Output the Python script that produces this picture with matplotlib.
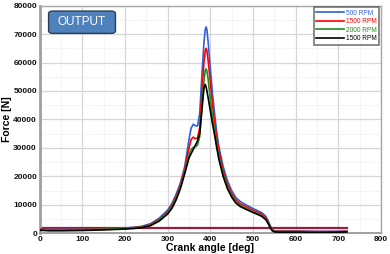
import matplotlib
matplotlib.use("Agg")
import matplotlib.pyplot as plt
from matplotlib.patches import FancyBboxPatch
from matplotlib.ticker import MultipleLocator

angle = [0, 20, 50, 100, 150, 200, 220, 240, 260, 280, 300, 310, 320, 330, 340, 350,
         355, 360, 365, 370, 375, 380, 385, 388, 390, 392, 395, 400, 405, 410, 415, 420, 430,
         440, 450, 460, 470, 480, 490, 500, 510, 520, 530, 535, 540, 545, 550, 560,
         600, 650, 700, 720]

rpm500 = [1500, 1450, 1400, 1500, 1600, 1900, 2100, 2500, 3400, 5300, 8200, 10500, 13800,
          17800, 23500, 33000, 37000, 38300, 37800, 37700, 42000, 55000, 67000, 71500, 72500,
          71500, 67000, 58000, 49000, 42000, 35500, 30500, 23500, 18500, 15000, 12500, 11200,
          10300, 9500, 8700, 8000, 7300, 6000, 4500, 2800, 1500, 900, 800, 800, 700, 700, 800]

rpm1500 = [1400, 1350, 1300, 1400, 1500, 1800, 2000, 2300, 3100, 4900, 7600, 9800, 13000,
           17000, 22500, 30000, 33000, 33800, 33200, 33500, 37000, 49000, 60000, 64200, 65000,
           64200, 60500, 53000, 45500, 39000, 33500, 29000, 22000, 17300, 14000, 11700, 10400,
           9600, 8900, 8100, 7500, 6800, 5500, 4200, 2600, 1300, 800, 700, 700, 600, 600, 700]

rpm2000 = [1300, 1200, 1200, 1300, 1400, 1700, 1900, 2200, 2900, 4600, 7200, 9300, 12300,
           16300, 21500, 27500, 29500, 30200, 30400, 31000, 34000, 44000, 53500, 57200, 57800,
           57000, 54000, 47000, 41000, 36000, 31000, 27000, 20800, 16300, 13200, 11000, 9800,
           9000, 8300, 7600, 7000, 6300, 5000, 3800, 2300, 1100, 700, 600, 600, 500, 500, 600]

rpm1500b = [1100, 900, 900, 1000, 1200, 1500, 1700, 2000, 2700, 4300, 6800, 8800, 11800,
            15800, 21000, 26500, 28000, 29500, 31000, 32500, 35000, 43000, 51000, 52300, 51500,
            50000, 47500, 43000, 38500, 34500, 30000, 26000, 20000, 15700, 12700, 10600, 9400,
            8700, 8000, 7300, 6700, 6000, 4800, 3600, 2100, 900, 500, 400, 400, 300, 400, 500]

ref_angle = [0, 720]
ref_force = [2000, 2000]

series = [
    ("500 RPM", rpm500, "#3060D8"),
    ("1500 RPM", rpm1500, "#FF0000"),
    ("2000 RPM", rpm2000, "#228B22"),
    ("1500 RPM", rpm1500b, "#000000"),
]

fig = plt.figure(figsize=(3.9, 2.54), dpi=100)
ax = fig.add_axes([0.1018, 0.0814, 0.8751, 0.8966])

ax.plot(ref_angle, ref_force, color="#9B1B3C", lw=1.6, zorder=2)
for label, vals, col in series:
    ax.plot(angle, vals, color=col, lw=1.2, label=label, zorder=3)

ax.set_xlim(0, 800)
ax.set_ylim(0, 80000)
ax.xaxis.set_major_locator(MultipleLocator(100))
ax.xaxis.set_minor_locator(MultipleLocator(50))
ax.yaxis.set_major_locator(MultipleLocator(10000))
ax.yaxis.set_minor_locator(MultipleLocator(5000))
ax.grid(which="major", color="#D6D6D6", lw=0.9, zorder=0)
ax.grid(which="minor", color="#E2E2E2", lw=0.6, ls=":", zorder=0)
ax.set_axisbelow(True)

for side in ["top", "right"]:
    ax.spines[side].set_color("#A8A8A8")
    ax.spines[side].set_linewidth(1.0)
ax.spines["left"].set_color("#A0A0A0")
ax.spines["left"].set_linewidth(2.0)
ax.spines["bottom"].set_color("#A0A0A0")
ax.spines["bottom"].set_linewidth(1.4)

ax.tick_params(which="both", length=0, pad=2)
for t in ax.get_xticklabels() + ax.get_yticklabels():
    t.set_fontfamily("Liberation Sans")
    t.set_fontweight("bold")
    t.set_fontsize(6)
    t.set_color("#111111")

ax.set_xlabel("Crank angle [deg]", fontfamily="Liberation Sans", fontweight="bold",
              fontsize=7.5, labelpad=0)
ax.set_ylabel("Force [N]", fontfamily="Liberation Sans", fontweight="bold",
              fontsize=7.5, labelpad=1)

leg = ax.legend(loc="upper right", frameon=True, fancybox=False,
                handlelength=4.2, handletextpad=0.4, borderpad=0.35,
                labelspacing=0.25, borderaxespad=0.25,
                prop={"family": "Liberation Sans", "size": 4.7})
leg.get_frame().set_edgecolor("#555555")
leg.get_frame().set_linewidth(1.2)
for txt, (_, _, col) in zip(leg.get_texts(), series):
    txt.set_color(col)

box = FancyBboxPatch((0.030, 0.882), 0.188, 0.09, transform=ax.transAxes,
                     boxstyle="round,pad=0.004,rounding_size=0.012",
                     facecolor="#4F81BD", edgecolor="#2C3E55", lw=1.0, zorder=5)
ax.add_patch(box)
ax.text(0.124, 0.926, "OUTPUT", transform=ax.transAxes, ha="center", va="center",
        color="white", fontsize=8.5, fontfamily="Liberation Sans", zorder=6)

fig.savefig("out.png", dpi=100)
